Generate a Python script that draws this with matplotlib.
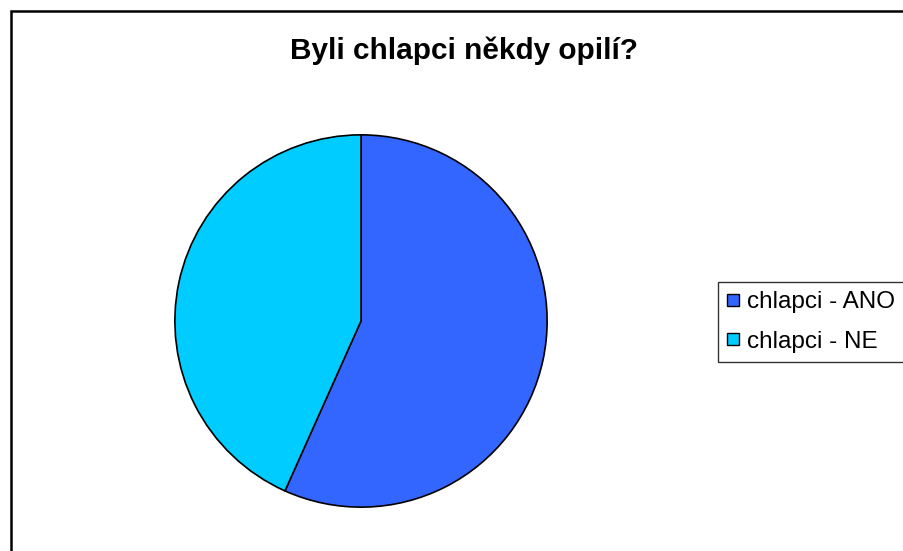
import matplotlib.pyplot as plt
from matplotlib.lines import Line2D
from matplotlib.patches import Rectangle

plt.rcParams['font.family'] = ['Liberation Sans', 'DejaVu Sans']

# data
labels = ['chlapci - ANO', 'chlapci - NE']
values = [56.7, 43.3]
colors = ['#3366FF', '#00CCFF']
title = 'Byli chlapci někdy opilí?'

fig = plt.figure(figsize=(9.04, 5.51), dpi=100)

# outer chart border (cut off at right and bottom like the original)
fig.patches.append(Rectangle((10.5 / 904, -0.2), 1.2, 1.2 - 11 / 551,
                             transform=fig.transFigure, fill=False,
                             edgecolor='black', linewidth=1.8))

# pie axes: centre at (361, 321) px, radius 188 px
cx, cy, r = 361, 321, 188
ax = fig.add_axes([(cx - r) / 904, (551 - cy - r) / 551, 2 * r / 904, 2 * r / 551])
ax.pie(values, colors=colors, startangle=90, counterclock=False,
       wedgeprops=dict(edgecolor='black', linewidth=1.2))
ax.set_xlim(-1.01, 1.01)
ax.set_ylim(-1.01, 1.01)
ax.set_aspect('auto')
ax.axis('off')

fig.text(464 / 904, 1 - 51 / 551, title, ha='center', va='center',
         fontsize=21.4, fontweight='bold')

handles = [Line2D([], [], marker='s', linestyle='none', markersize=8,
                  markerfacecolor=c, markeredgecolor='black', markeredgewidth=1)
           for c in colors]
leg = fig.legend(handles, labels, loc='upper left',
                 bbox_to_anchor=(718 / 904, 1 - 282 / 551),
                 fontsize=17.5, frameon=True, fancybox=False,
                 handlelength=0.5, handletextpad=0.3, borderpad=0.38,
                 labelspacing=0.72, borderaxespad=0)
leg.get_frame().set_edgecolor('black')
leg.get_frame().set_linewidth(1)

fig.savefig('out.png', dpi=100)
